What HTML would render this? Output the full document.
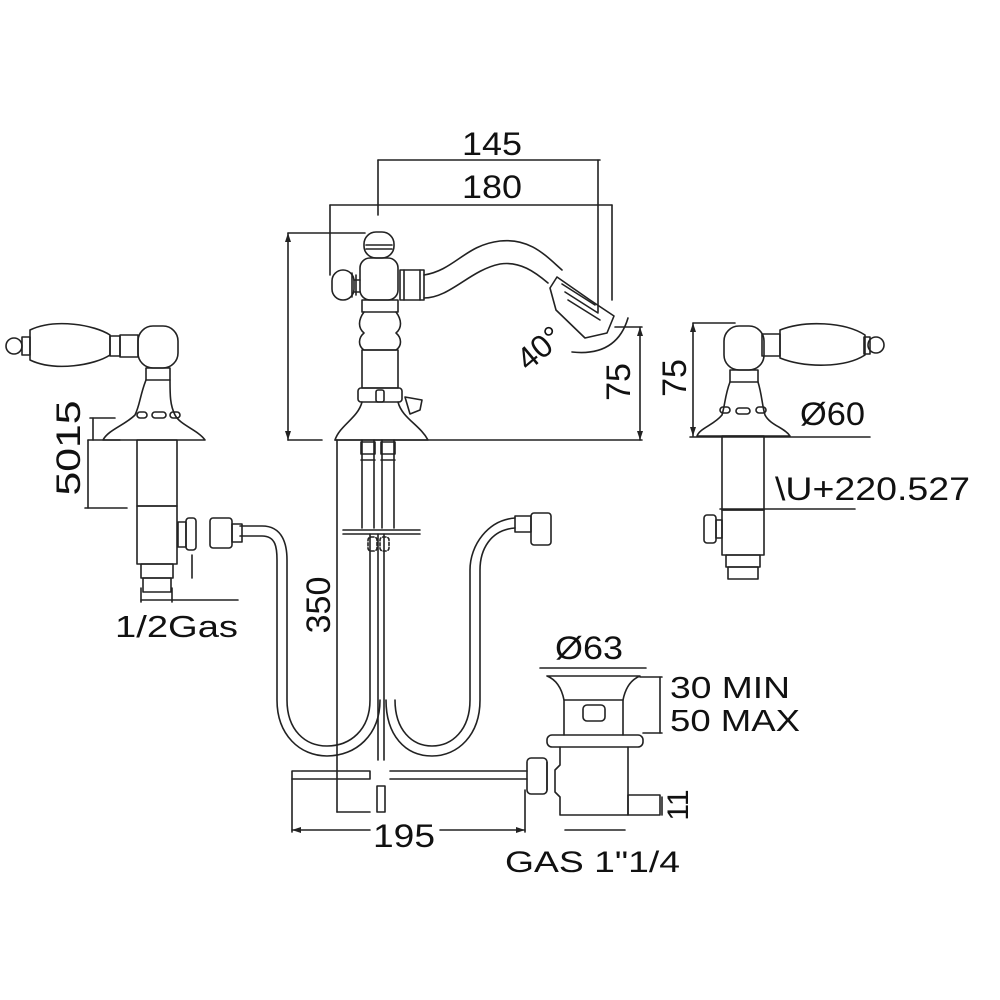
<!DOCTYPE html>
<html><head><meta charset="utf-8"><style>
html,body{margin:0;padding:0;background:#fff;}
svg{display:block;}
text{font-family:"Liberation Sans",sans-serif;fill:#111;}
</style></head><body>
<svg width="1000" height="1000" viewBox="0 0 1000 1000" xmlns="http://www.w3.org/2000/svg">
<g fill="none" stroke="#222" stroke-width="1.6" stroke-linejoin="round" stroke-linecap="round">
<line x1="378" y1="160" x2="600" y2="160"/><line x1="378" y1="160" x2="378" y2="215"/><line x1="598" y1="160" x2="598" y2="312"/>
<line x1="330" y1="205" x2="612" y2="205"/><line x1="330" y1="205" x2="330" y2="275"/><line x1="612" y1="205" x2="612" y2="300"/>
<line x1="288" y1="233" x2="288" y2="440"/><line x1="288" y1="233" x2="365" y2="233"/><line x1="288" y1="440" x2="322" y2="440"/>
<line x1="335" y1="440" x2="642" y2="440"/><line x1="640" y1="327" x2="640" y2="440"/><line x1="615" y1="327" x2="642" y2="327"/>
<rect x="364" y="232" width="30" height="26" rx="12"/><line x1="366" y1="245" x2="392" y2="245"/><line x1="366" y1="249" x2="392" y2="249"/>
<rect x="360" y="258" width="38" height="42" rx="10"/>
<rect x="332" y="270" width="22" height="30" rx="11"/><line x1="352" y1="273" x2="352" y2="297"/><line x1="356" y1="275" x2="356" y2="295"/><line x1="354" y1="280" x2="360" y2="280"/><line x1="354" y1="292" x2="360" y2="292"/>
<rect x="400" y="270" width="24" height="30"/><line x1="404" y1="270" x2="404" y2="300"/><line x1="420" y1="270" x2="420" y2="300"/>
<path d="M424 275 C455 270 465 245 500 241 C530 238 545 255 562 270"/>
<path d="M424 298 C450 298 470 270 500 264 C520 261 535 272 548 283"/>
<path d="M557 277 L590 300 L614 316 L607 333 L585 338 L556 310 L550 288 Z"/>
<line x1="562" y1="284" x2="595" y2="305"/><line x1="565" y1="292" x2="598" y2="313"/><line x1="568" y1="300" x2="600" y2="320"/>
<path d="M628 318 C620 345 600 355 572 352"/>
<rect x="362" y="300" width="36" height="12"/>
<path d="M364 312 C358 320 358 328 364 333 C358 338 358 346 364 350 L396 350 C402 346 402 338 396 333 C402 328 402 320 396 312"/>
<rect x="362" y="350" width="36" height="38"/>
<rect x="358" y="388" width="44" height="14" rx="3"/><rect x="376" y="390" width="8" height="12" rx="2"/>
<path d="M405 397 L422 400 L420 410 L410 414 Z"/>
<path d="M362 402 C358 418 340 425 335 440 L428 440 C420 425 402 418 398 402"/>
<line x1="362" y1="440" x2="362" y2="528"/><line x1="374" y1="440" x2="374" y2="528"/><line x1="382" y1="440" x2="382" y2="528"/><line x1="394" y1="440" x2="394" y2="528"/>
<rect x="361" y="442" width="14" height="12"/><rect x="381" y="442" width="14" height="12"/><line x1="361" y1="460" x2="375" y2="460"/><line x1="381" y1="460" x2="395" y2="460"/>
<line x1="343" y1="530" x2="420" y2="530"/><line x1="343" y1="534" x2="420" y2="534"/>
<rect x="368" y="537" width="9" height="14" rx="3" stroke-dasharray="3 2"/><rect x="380" y="537" width="9" height="14" rx="3" stroke-dasharray="3 2"/>
<line x1="378" y1="534" x2="378" y2="760"/><line x1="384" y1="534" x2="384" y2="760"/>
<path d="M240 526 L262 526 C283 526 287 545 287 560 L287 700 C287 730 305 746 327 746 C350 746 370 730 370 700 L370 534"/>
<path d="M240 536 L262 536 C276 536 277 548 277 560 L277 700 C277 735 300 756 327 756 C356 756 380 735 380 700"/>
<rect x="210" y="518" width="22" height="30" rx="3"/><rect x="232" y="524" width="10" height="18"/>
<path d="M386 700 C386 735 405 756 432 756 C458 756 480 735 480 700 L480 570 C480 550 490 530 515 528"/>
<path d="M395 700 C395 730 412 746 432 746 C452 746 470 730 470 700 L470 570 C470 545 488 520 515 518"/>
<rect x="515" y="516" width="16" height="16"/><rect x="531" y="513" width="20" height="32" rx="3"/>
<line x1="337" y1="440" x2="337" y2="812"/><line x1="337" y1="812" x2="370" y2="812"/>
<line x1="540" y1="668" x2="646" y2="668"/>
<path d="M547 676 L640 676 C630 680 625 690 623 700 L623 735 M547 676 C557 680 562 690 564 700 L564 735"/>
<line x1="564" y1="700" x2="623" y2="700"/><rect x="583" y="705" width="22" height="16" rx="4"/>
<rect x="547" y="735" width="96" height="12" rx="5"/>
<path d="M560 747 L560 765 L555 770 L555 792 L560 797 L560 815 L628 815 L628 747"/>
<rect x="628" y="795" width="32" height="20"/>
<line x1="660" y1="677" x2="660" y2="733"/><line x1="640" y1="677" x2="662" y2="677"/><line x1="643" y1="733" x2="662" y2="733"/>
<line x1="662" y1="797" x2="662" y2="815"/>
<rect x="527" y="758" width="20" height="36" rx="4"/><line x1="547" y1="762" x2="547" y2="790"/>
<line x1="390" y1="771" x2="527" y2="771"/><line x1="390" y1="779" x2="527" y2="779"/>
<rect x="292" y="771" width="78" height="8"/><rect x="377" y="786" width="8" height="26"/>
<line x1="292" y1="779" x2="292" y2="832"/><line x1="525" y1="790" x2="525" y2="832"/>
<line x1="292" y1="830" x2="370" y2="830"/><line x1="440" y1="830" x2="525" y2="830"/>
<line x1="565" y1="830" x2="625" y2="830"/>
<path d="M30 330 C55 318 95 325 110 335 L110 355 C95 365 55 372 30 360 Z"/><circle cx="14" cy="346" r="8"/><rect x="22" y="337" width="8" height="18"/>
<rect x="110" y="336" width="10" height="20"/><rect x="120" y="335" width="18" height="22"/>
<rect x="138" y="326" width="40" height="42" rx="15"/><rect x="146" y="368" width="24" height="12"/>
<path d="M146 380 C140 395 140 405 135 415 C125 425 108 430 103 440 L205 440 C198 430 180 425 175 415 C170 405 170 395 170 380"/>
<rect x="137" y="412" width="10" height="6" rx="3"/><rect x="152" y="412" width="14" height="6" rx="3"/><rect x="170" y="412" width="10" height="6" rx="3"/>
<rect x="137" y="440" width="40" height="66"/><rect x="137" y="506" width="40" height="58"/>
<rect x="141" y="564" width="32" height="14"/><rect x="143" y="578" width="28" height="14"/>
<rect x="178" y="522" width="8" height="25"/><rect x="186" y="518" width="10" height="32" rx="3"/>
<line x1="192" y1="555" x2="192" y2="578"/>
<line x1="93" y1="418" x2="93" y2="440"/><line x1="90" y1="418" x2="115" y2="418"/><line x1="88" y1="440" x2="120" y2="440"/>
<line x1="88" y1="440" x2="88" y2="508"/><line x1="85" y1="508" x2="127" y2="508"/>
<line x1="141" y1="588" x2="141" y2="602"/><line x1="172" y1="588" x2="172" y2="602"/><line x1="141" y1="600" x2="238" y2="600"/>
<path d="M780 330 C805 320 845 322 865 335 L865 355 C845 368 805 368 780 358 Z"/><circle cx="876" cy="345" r="8"/><rect x="864" y="337" width="6" height="17"/>
<rect x="762" y="334" width="18" height="22"/>
<rect x="724" y="326" width="40" height="44" rx="15"/><rect x="730" y="370" width="28" height="12"/>
<path d="M730 382 C725 395 725 405 722 415 C714 425 700 428 697 436 L790 436 C785 428 770 425 765 415 C762 405 762 395 758 382"/>
<rect x="720" y="407" width="10" height="6" rx="3"/><rect x="736" y="408" width="14" height="6" rx="3"/><rect x="756" y="407" width="10" height="6" rx="3"/>
<rect x="722" y="436" width="42" height="74"/><rect x="722" y="510" width="42" height="45"/>
<rect x="726" y="555" width="34" height="12"/><rect x="728" y="567" width="30" height="12"/>
<rect x="704" y="515" width="12" height="28" rx="3"/><rect x="716" y="520" width="6" height="18"/>
<line x1="693" y1="323" x2="693" y2="436"/><line x1="693" y1="323" x2="735" y2="323"/>
<line x1="690" y1="437" x2="870" y2="437"/><line x1="720" y1="509" x2="855" y2="509"/>
</g>
<g fill="#222" stroke="none">
<polygon points="288,233 285,242 291,242"/><polygon points="288,440 285,431 291,431"/>
<polygon points="640,327 637,336 643,336"/><polygon points="640,440 637,431 643,431"/>
<polygon points="292,830 301,827 301,833"/><polygon points="525,830 516,827 516,833"/>
<polygon points="693,323 690,332 696,332"/><polygon points="693,436 690,427 696,427"/>
</g>
<text x="462" y="155" font-size="32" textLength="60" lengthAdjust="spacingAndGlyphs">145</text>
<text x="462" y="198" font-size="32" textLength="60" lengthAdjust="spacingAndGlyphs">180</text>
<text transform="translate(528,372) rotate(-40)" font-size="32">40°</text>
<text transform="translate(630,382) rotate(-90)" font-size="34" text-anchor="middle">75</text>
<text transform="translate(686,378) rotate(-90)" font-size="34" text-anchor="middle">75</text>
<text x="800" y="425" font-size="32" textLength="65" lengthAdjust="spacingAndGlyphs">Ø60</text>
<text x="775" y="500" font-size="32" textLength="195" lengthAdjust="spacingAndGlyphs">\U+220.527</text>
<text transform="translate(80,448) rotate(-90)" font-size="34" text-anchor="middle" textLength="95" lengthAdjust="spacingAndGlyphs">5015</text>
<text x="115" y="637" font-size="31" textLength="123" lengthAdjust="spacingAndGlyphs">1/2Gas</text>
<text transform="translate(330,605) rotate(-90)" font-size="34" text-anchor="middle">350</text>
<text x="555" y="659" font-size="32" textLength="68" lengthAdjust="spacingAndGlyphs">Ø63</text>
<text x="670" y="698" font-size="31" textLength="120" lengthAdjust="spacingAndGlyphs">30 MIN</text>
<text x="670" y="731" font-size="31" textLength="130" lengthAdjust="spacingAndGlyphs">50 MAX</text>
<text transform="translate(688,805) rotate(-90)" font-size="30" text-anchor="middle">11</text>
<text x="373" y="847" font-size="32" textLength="62" lengthAdjust="spacingAndGlyphs">195</text>
<text x="505" y="872" font-size="30" textLength="175" lengthAdjust="spacingAndGlyphs">GAS 1"1/4</text>
</svg>
</body></html>
